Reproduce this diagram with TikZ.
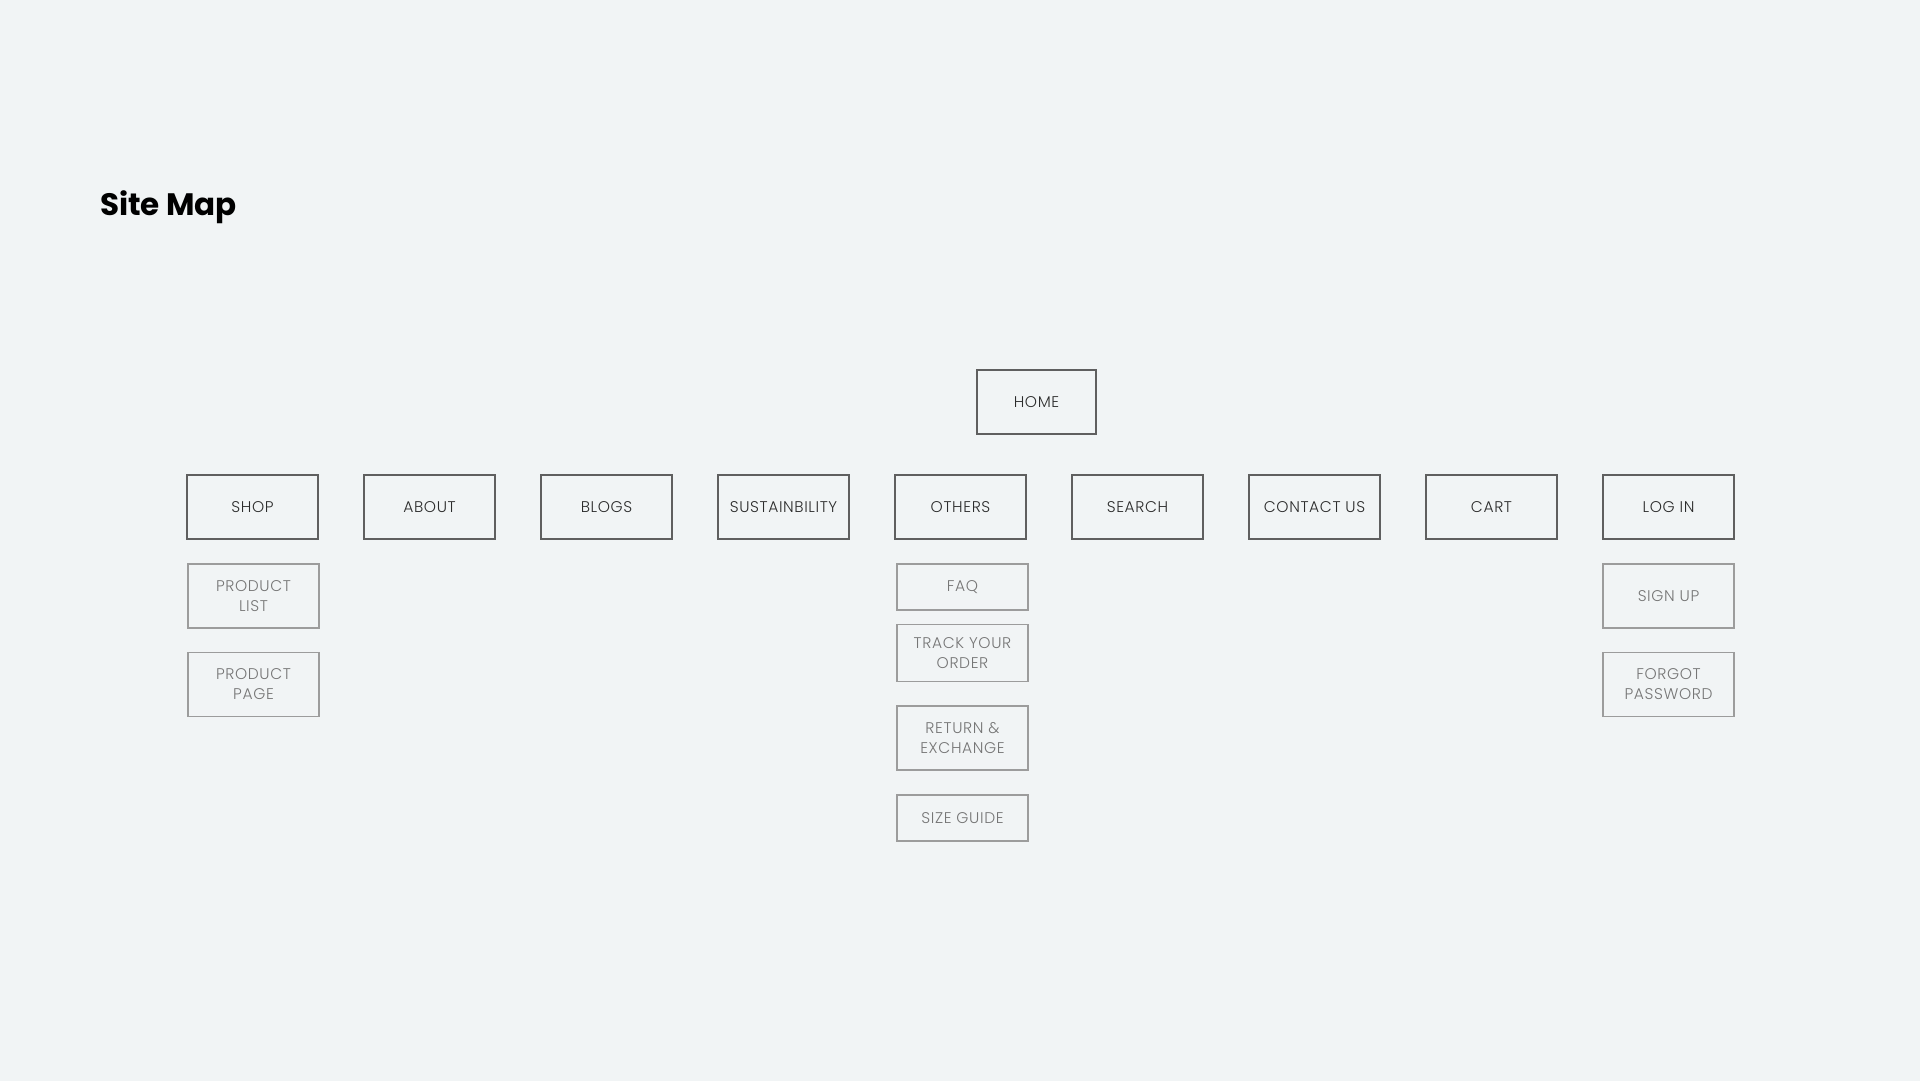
\documentclass[tikz,border=0pt]{standalone}
\usepackage{fontspec}
\setmainfont{Poppins}
\newfontfamily\boxfont{Poppins Light}[LetterSpace=4]
\usepackage{tikz}
\usetikzlibrary{positioning}
\definecolor{bg}{HTML}{F1F4F5}
\definecolor{mainline}{HTML}{5F5F5F}
\definecolor{maintext}{HTML}{2C2C2C}
\definecolor{subline}{HTML}{9C9C9C}
\definecolor{subtext}{HTML}{767676}

\begin{document}
\begin{tikzpicture}[x=1pt,y=-1pt,% 1 unit = 1 px of the layout
			every node/.style={
				align=center,		% so that "\\" breaks the line
				inner sep=0pt,
				outer sep=0pt,
				font=\boxfont\fontsize{15.5}{20}\selectfont
			},
			mainbox/.style={
				rectangle,draw=mainline,line width=1.3pt,text=maintext,
				minimum width=131pt,minimum height=64pt
			},
			subbox/.style={
				rectangle,draw=subline,line width=1.1pt,text=subtext,
				minimum width=131pt,minimum height=64pt
			},
			node distance=46pt and 46pt
		]
		\fill[bg] (0,0) rectangle (1920,1081);
		\useasboundingbox (0,0) rectangle (1920,1081);
		\node[anchor=base west,font=\fontsize{31}{38}\selectfont\bfseries,text=black](RTitle) at (100,215){Site Map};
		% top level
		\node[mainbox,minimum width=119pt](RHome) at (1036.5,402){HOME};
		% second level, left to right
		\node[mainbox](RShop) at (252.5,507){SHOP};
		\node[mainbox](RAbout)[right= of RShop]{ABOUT};
		\node[mainbox](RBlogs)[right= of RAbout]{BLOGS};
		\node[mainbox](RSust)[right= of RBlogs]{SUSTAINBILITY};
		\node[mainbox](ROthers)[right= of RSust]{OTHERS};
		\node[mainbox](RSearch)[right= of ROthers]{SEARCH};
		\node[mainbox](RContact)[right= of RSearch]{CONTACT US};
		\node[mainbox](RCart)[right= of RContact]{CART};
		\node[mainbox](RLogin)[right= of RCart]{LOG IN};
		% third level
		\node[subbox](RList)[below=25pt of RShop,xshift=1pt]{PRODUCT\\LIST};
		\node[subbox](RPage)[below=24.5pt of RList]{PRODUCT\\PAGE};
		\node[subbox,minimum height=46pt](RFaq)[below=25pt of ROthers,xshift=2pt]{FAQ};
		\node[subbox,minimum height=57pt](RTrack)[below=14.5pt of RFaq]{TRACK YOUR\\ORDER};
		\node[subbox](RReturn)[below=24.5pt of RTrack]{RETURN \&\\EXCHANGE};
		\node[subbox,minimum height=46pt](RSize)[below=25pt of RReturn]{SIZE GUIDE};
		\node[subbox](RSignup)[below=25pt of RLogin]{SIGN UP};
		\node[subbox](RForgot)[below=24.5pt of RSignup]{FORGOT\\PASSWORD};
	\end{tikzpicture}
\end{document}
